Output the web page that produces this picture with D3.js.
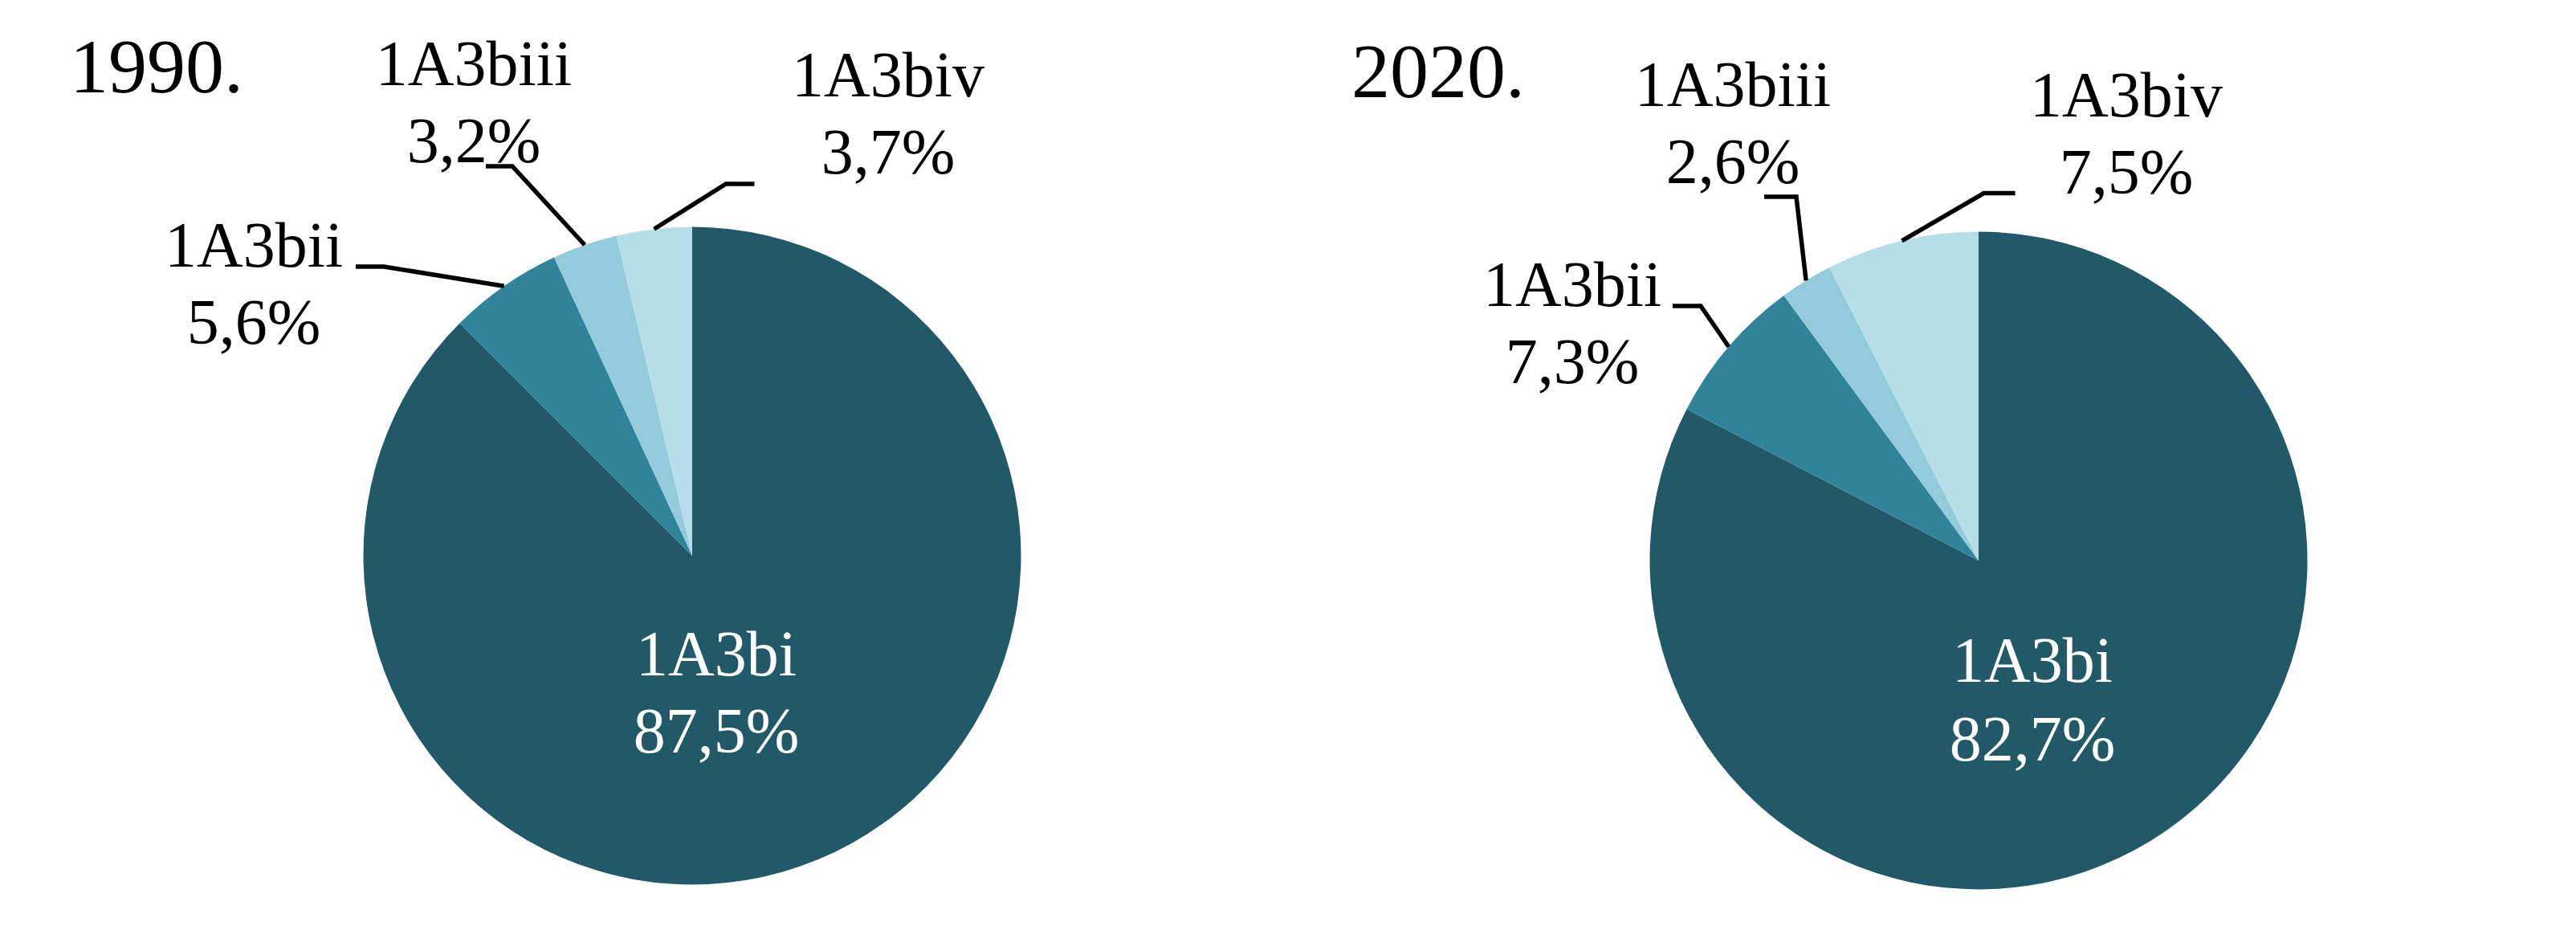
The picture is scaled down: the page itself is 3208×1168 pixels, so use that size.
<!DOCTYPE html>
<html>
<head>
<meta charset="utf-8">
<script src="https://cdn.jsdelivr.net/npm/d3@7"></script>
<style>
  html, body { margin: 0; padding: 0; background: #ffffff; }
  svg { display: block; }
  text { font-family: "Liberation Serif", "Times New Roman", serif; }
</style>
</head>
<body>
<svg id="chart" width="3208" height="1168"></svg>
<script>
// ---- data ----
const categories = ["1A3bi", "1A3bii", "1A3biii", "1A3biv"];
const years = ["1990.", "2020."];
const values1990 = [87.5, 5.6, 3.2, 3.7];
const values2020 = [82.7, 7.3, 2.6, 7.5];
const valueLabels1990 = ["87,5%", "5,6%", "3,2%", "3,7%"];
const valueLabels2020 = ["82,7%", "7,3%", "2,6%", "7,5%"];

// ---- style / layout ----
const colors = ["#225969", "#31839a", "#94cbdc", "#b7dde8"];
const radius = 409.5;
const panels = [
  { title: years[0], values: values1990, labels: valueLabels1990,
    cx: 862, cy: 692, titleX: 87, titleY: 115,
    inner: { dx: 30, y1: 149, y2: 245 },
    outer: [
      null,
      { tx: -546, ty: -360, start: [-419, -360], elbow: [-384, -360] },
      { tx: -272, ty: -586, start: [-257, -485], elbow: [-224, -485] },
      { tx: 244,  ty: -572, start: [77.5, -463], elbow: [42, -463] }
    ] },
  { title: years[1], values: values2020, labels: valueLabels2020,
    cx: 2464, cy: 698, titleX: 1683, titleY: 121,
    inner: { dx: 67, y1: 151, y2: 249 },
    outer: [
      null,
      { tx: -506, ty: -317, start: [-381, -317], elbow: [-346, -317] },
      { tx: -306, ty: -566, start: [-267, -453], elbow: [-227, -453] },
      { tx: 184,  ty: -553, start: [45.6, -457.4], elbow: [6.6, -457.4] }
    ] }
];

const svg = d3.select("#chart");
const color = d3.scaleOrdinal().domain(categories).range(colors);
const pie = d3.pie().sort(null).value(d => d.value);
const arc = d3.arc().innerRadius(0).outerRadius(radius);
const edgeArc = d3.arc().innerRadius(radius).outerRadius(radius);

panels.forEach(p => {
  const data = categories.map((c, i) => ({ cat: c, value: p.values[i], label: p.labels[i] }));
  const arcs = pie(data);

  svg.append("text")
    .attr("x", p.titleX).attr("y", p.titleY)
    .attr("font-size", 96).attr("fill", "#000")
    .text(p.title);

  const g = svg.append("g").attr("transform", `translate(${p.cx},${p.cy})`);

  g.selectAll("path.slice").data(arcs).enter().append("path")
    .attr("class", "slice")
    .attr("d", arc)
    .attr("fill", d => color(d.data.cat));

  // inner label for the big slice
  const t = g.append("text").attr("fill", "#fff").attr("font-size", 80).attr("text-anchor", "middle");
  t.append("tspan").attr("x", p.inner.dx).attr("y", p.inner.y1).text(arcs[0].data.cat);
  t.append("tspan").attr("x", p.inner.dx).attr("y", p.inner.y2).text(arcs[0].data.label);

  // outer labels with leader lines
  arcs.forEach((a, i) => {
    const o = p.outer[i];
    if (!o) return;
    const end = edgeArc.centroid(a);
    g.append("path")
      .attr("d", d3.line()([o.start, o.elbow, end]))
      .attr("fill", "none").attr("stroke", "#000").attr("stroke-width", 5.5)
      .attr("stroke-linejoin", "miter");
    const lt = g.append("text").attr("fill", "#000").attr("font-size", 80).attr("text-anchor", "middle");
    lt.append("tspan").attr("x", o.tx).attr("y", o.ty).text(a.data.cat);
    lt.append("tspan").attr("x", o.tx).attr("y", o.ty + 96).text(a.data.label);
  });
});
</script>
</body>
</html>
